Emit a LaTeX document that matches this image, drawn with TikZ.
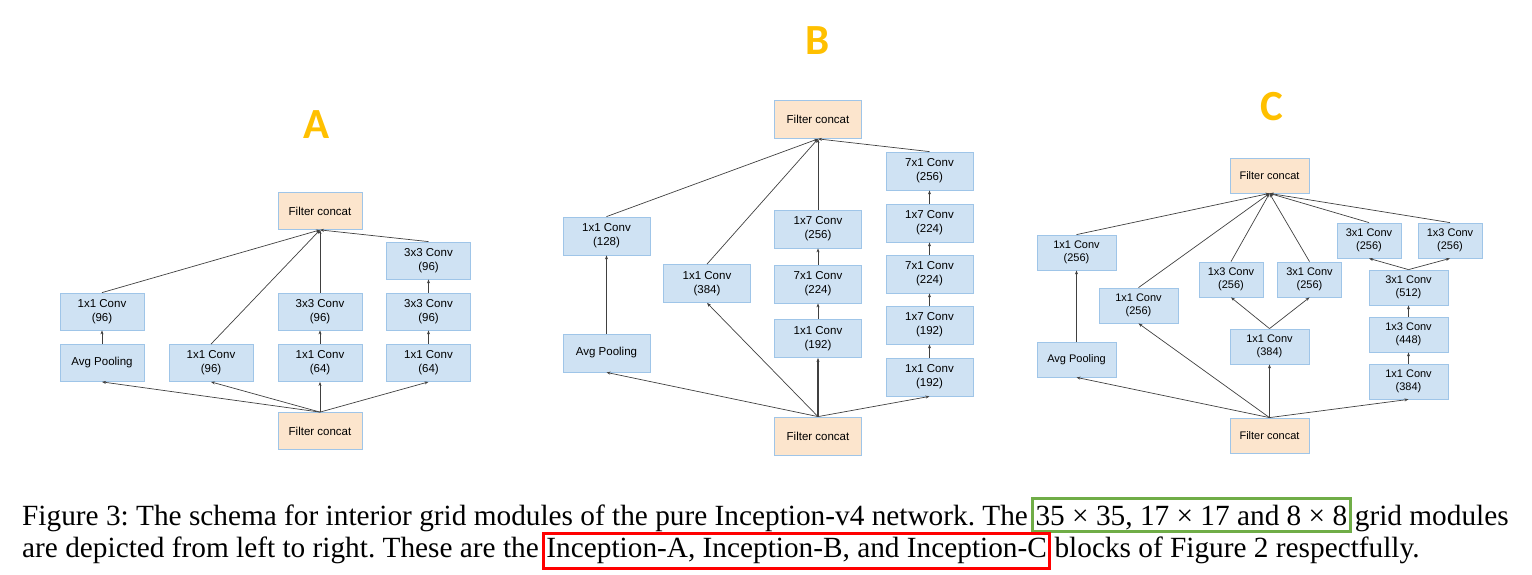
\documentclass[tikz,border=0pt]{standalone}
\usepackage{fontspec}
\setmainfont{Liberation Serif}
\newfontfamily\boxfont{Liberation Sans}
\newfontfamily\panelfont{Carlito}
\usepackage{xcolor}
\usetikzlibrary{arrows.meta}

\definecolor{convblue}{HTML}{CFE2F3}
\definecolor{convline}{HTML}{9FC5E8}
\definecolor{catfill}{HTML}{FCE5CD}
\definecolor{panelgold}{HTML}{FFC000}
\definecolor{gridgreen}{HTML}{70AD47}
\definecolor{arrowgray}{HTML}{404040}

\tikzset{
  conv/.style = {draw=convline, fill=convblue, line width=0.8pt, align=center,
    inner sep=0pt, minimum width=84pt, minimum height=37pt,
    font=\boxfont\fontsize{11.5}{14}\selectfont},
  cat/.style = {conv, fill=catfill},
  flow/.style = {draw=arrowgray, line width=0.7pt, -{Stealth[length=4pt,width=3pt]}},
  panel/.style = {text=panelgold, inner sep=0pt, font=\panelfont\bfseries\fontsize{43}{43}\selectfont},
  capt/.style = {inner sep=0pt, font=\frenchspacing\fontsize{29.3}{32}\selectfont},
  hilite/.style = {capt, line width=3pt, inner xsep=3pt, inner ysep=2.5pt}
}

\begin{document}
\begin{tikzpicture}[x=1pt, y=-1pt]

    \useasboundingbox (0,0) rectangle (1532,574);

    % module A
    \begin{scope}

    \node[panel] (labA) at (317,125) {A};

    \node[cat] (Atop) at (320,211) {Filter concat};
    \node[cat] (Abot) at (320,431) {Filter concat};

    \node[conv] (Apool) at (102,363) {Avg Pooling};
    \node[conv] (Apoolc) at (102,311.5) {1x1 Conv\\(96)};
    \node[conv] (Aone) at (211,363) {1x1 Conv\\(96)};
    \node[conv] (Atwoa) at (320,363) {1x1 Conv\\(64)};
    \node[conv] (Atwob) at (320,311.5) {3x3 Conv\\(96)};
    \node[conv] (Athra) at (428.5,363) {1x1 Conv\\(64)};
    \node[conv] (Athrb) at (428.5,311.5) {3x3 Conv\\(96)};
    \node[conv] (Athrc) at (428.5,260.5) {3x3 Conv\\(96)};

    \foreach \n in {Apool, Aone, Atwoa, Athra}
    \draw[flow] (Abot.north) -- (\n.south);

    \draw[flow] (Apool) -- (Apoolc);
    \draw[flow] (Atwoa) -- (Atwob);
    \draw[flow] (Athra) -- (Athrb);
    \draw[flow] (Athrb) -- (Athrc);

    \foreach \n in {Apoolc, Aone, Atwob, Athrc}
    \draw[flow] (\n.north) -- (Atop.south);

    \end{scope}

    % module B
    \begin{scope}[conv/.append style = {minimum width=87pt, minimum height=38pt}]

    \node[panel] (labB) at (818,41) {B};

    \node[cat] (Btop) at (818,119.5) {Filter concat};
    \node[cat] (Bbot) at (818,436) {Filter concat};

    \node[conv] (Bpool) at (606.5,353) {Avg Pooling};
    \node[conv] (Bpoolc) at (606.5,236) {1x1 Conv\\(128)};
    \node[conv] (Bone) at (707,283.5) {1x1 Conv\\(384)};
    \node[conv] (Btwoa) at (818,338.5) {1x1 Conv\\(192)};
    \node[conv] (Btwob) at (818,284) {7x1 Conv\\(224)};
    \node[conv] (Btwoc) at (818,229) {1x7 Conv\\(256)};
    \node[conv] (Bthra) at (929.5,377) {1x1 Conv\\(192)};
    \node[conv] (Bthrb) at (929.5,325) {1x7 Conv\\(192)};
    \node[conv] (Bthrc) at (929.5,274) {7x1 Conv\\(224)};
    \node[conv] (Bthrd) at (929.5,223) {1x7 Conv\\(224)};
    \node[conv] (Bthre) at (929.5,171) {7x1 Conv\\(256)};

    \foreach \n in {Bpool, Bone, Bthra}
    \draw[flow] (Bbot.north) -- (\n.south);
    \draw[flow, line width=1.2pt] (Bbot.north) -- (Btwoa.south);

    \draw[flow] (Bpool) -- (Bpoolc);
    \draw[flow] (Btwoa) -- (Btwob);
    \draw[flow] (Btwob) -- (Btwoc);
    \draw[flow] (Bthra) -- (Bthrb);
    \draw[flow] (Bthrb) -- (Bthrc);
    \draw[flow] (Bthrc) -- (Bthrd);
    \draw[flow] (Bthrd) -- (Bthre);

    \foreach \n in {Bpoolc, Bone, Btwoc, Bthre}
    \draw[flow] (\n.north) -- (Btop.south);

    \end{scope}

    % module C
    \begin{scope}[conv/.append style = {minimum width=79pt, minimum height=35pt,
        font=\boxfont\fontsize{11}{13.5}\selectfont}]

    \node[panel] (labC) at (1272,107) {C};

    \node[cat] (Ctop) at (1269.5,175.5) {Filter concat};
    \node[cat] (Cbot) at (1269.5,435.5) {Filter concat};

    \node[conv] (Cpool) at (1076.5,359.5) {Avg Pooling};
    \node[conv] (Cpoolc) at (1076.5,252.5) {1x1 Conv\\(256)};
    \node[conv] (Cone) at (1138.5,305.5) {1x1 Conv\\(256)};
    \node[conv] (Ctwoa) at (1269.5,346.5) {1x1 Conv\\(384)};
    \node[conv, minimum width=64pt] (Ctwob) at (1231,279.5) {1x3 Conv\\(256)};
    \node[conv, minimum width=64pt] (Ctwoc) at (1309.5,279.5) {3x1 Conv\\(256)};
    \node[conv] (Cthra) at (1408.5,381.5) {1x1 Conv\\(384)};
    \node[conv] (Cthrb) at (1408.5,334.5) {1x3 Conv\\(448)};
    \node[conv] (Cthrc) at (1408.5,287.5) {3x1 Conv\\(512)};
    \node[conv, minimum width=64pt] (Cthrd) at (1369,240.5) {3x1 Conv\\(256)};
    \node[conv, minimum width=64pt] (Cthre) at (1450,240.5) {1x3 Conv\\(256)};

    \foreach \n in {Cpool, Cone, Cthra}
    \draw[flow] (Cbot.north) -- (\n.south);
    \draw[flow, line width=1.2pt] (Cbot.north) -- (Ctwoa.south);

    \draw[flow] (Cpool) -- (Cpoolc);
    \draw[flow] (Ctwoa.north) -- (Ctwob.south);
    \draw[flow] (Ctwoa.north) -- (Ctwoc.south);
    \draw[flow] (Cthra) -- (Cthrb);
    \draw[flow] (Cthrb) -- (Cthrc);
    \draw[flow] (Cthrc.north) -- (Cthrd.south);
    \draw[flow] (Cthrc.north) -- (Cthre.south);

    \foreach \n in {Cpoolc, Cone, Ctwob, Ctwoc, Cthrd, Cthre}
    \draw[flow] (\n.north) -- (Ctop.south);

    \end{scope}

    % caption
    \node[capt, anchor=base west] (capa) at (22,525)
      {Figure 3: The schema for interior grid modules of the pure Inception-v4 network. The};
    \node[hilite, draw=gridgreen, text height=24pt, text depth=4pt, anchor=base west]
      (gridsz) at ([xshift=3pt]capa.base east) {35 × 35, 17 × 17 and 8 × 8};
    \node[capt, anchor=base west] (capb) at ([xshift=3pt]gridsz.base east) {grid modules};

    \node[capt, anchor=base west] (capc) at (22,557)
      {are depicted from left to right. These are the};
    \node[hilite, draw=red, text height=21pt, text depth=9pt, anchor=base west]
      (blocks) at ([xshift=3pt]capc.base east) {Inception-A, Inception-B, and Inception-C};
    \node[capt, anchor=base west] (capd) at ([xshift=3pt]blocks.base east)
      {blocks of Figure 2 respectfully.};

\end{tikzpicture}
\end{document}
